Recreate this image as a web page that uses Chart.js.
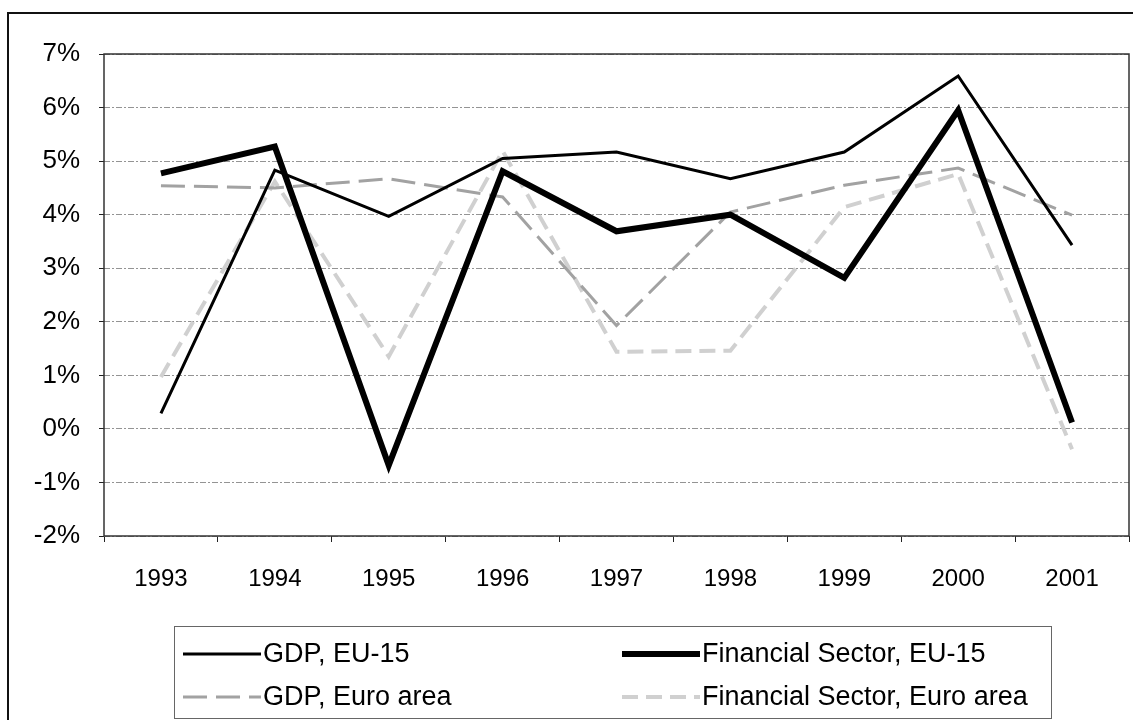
<!DOCTYPE html>
<html>
<head>
<meta charset="utf-8">
<script src="https://cdn.jsdelivr.net/npm/chart.js@4.4.1/dist/chart.umd.min.js"></script>
<style>
  html, body { margin: 0; padding: 0; background: #fff; }
  #wrap { width: 1133px; height: 720px; position: relative; }
</style>
</head>
<body>
<div id="wrap"><canvas id="c" width="1133" height="720"></canvas></div>
<script>
const years = ['1993', '1994', '1995', '1996', '1997', '1998', '1999', '2000', '2001'];
const gdpEU15 = [0.29, 4.83, 3.97, 5.05, 5.17, 4.67, 5.17, 6.59, 3.43];
const finEU15 = [4.77, 5.27, -0.68, 4.81, 3.69, 4.00, 2.82, 5.95, 0.12];
const gdpEuro = [4.54, 4.50, 4.67, 4.33, 1.93, 4.05, 4.55, 4.87, 3.99];
const finEuro = [0.97, 4.62, 1.35, 5.19, 1.44, 1.46, 4.14, 4.76, -0.38];
const seriesLabels = ['GDP, EU-15', 'Financial Sector, EU-15', 'GDP, Euro area', 'Financial Sector, Euro area'];

const FONT = '"Liberation Sans", Arial, sans-serif';

const framePlugin = {
  id: 'frameAndLegend',
  afterDraw(chart) {
    const ctx = chart.ctx;
    const a = chart.chartArea;
    ctx.save();
    // outer frame
    ctx.strokeStyle = '#111';
    ctx.lineWidth = 2;
    ctx.beginPath();
    ctx.moveTo(8, 725);
    ctx.lineTo(8, 13);
    ctx.lineTo(1140, 13);
    ctx.stroke();
    // plot border
    ctx.strokeStyle = '#333';
    ctx.lineWidth = 1.5;
    ctx.strokeRect(a.left, a.top, a.right - a.left, a.bottom - a.top);
    // legend box
    ctx.strokeStyle = '#666';
    ctx.lineWidth = 1;
    ctx.strokeRect(174.5, 626.5, 877, 92);
    const pos = [[183, 654], [622, 654], [183, 697], [622, 697]];
    chart.data.datasets.forEach((ds, i) => {
      const [x, y] = pos[i];
      ctx.save();
      ctx.strokeStyle = ds.borderColor;
      ctx.lineWidth = ds.borderWidth;
      ctx.setLineDash(ds.borderDash || []);
      ctx.beginPath();
      ctx.moveTo(x, y);
      ctx.lineTo(x + 78, y);
      ctx.stroke();
      ctx.restore();
      ctx.fillStyle = '#000';
      ctx.font = '27px ' + FONT;
      ctx.textBaseline = 'middle';
      ctx.textAlign = 'left';
      ctx.fillText(ds.label, x + 80, y + 1);
    });
    ctx.restore();
  }
};

new Chart(document.getElementById('c'), {
  type: 'line',
  data: {
    labels: years,
    datasets: [
      { label: seriesLabels[0], data: gdpEU15, borderColor: '#000', borderWidth: 3 },
      { label: seriesLabels[1], data: finEU15, borderColor: '#000', borderWidth: 6 },
      { label: seriesLabels[2], data: gdpEuro, borderColor: '#a2a2a2', borderWidth: 3, borderDash: [24, 9] },
      { label: seriesLabels[3], data: finEuro, borderColor: '#d0d0d0', borderWidth: 4, borderDash: [16, 8] }
    ]
  },
  options: {
    responsive: false,
    animation: false,
    devicePixelRatio: 1,
    elements: {
      point: { radius: 0, hoverRadius: 0 },
      line: { tension: 0, fill: false, borderJoinStyle: 'miter', borderCapStyle: 'butt' }
    },
    layout: { padding: { top: 54, left: 0, right: 4, bottom: 0 } },
    plugins: { legend: { display: false }, tooltip: { enabled: false } },
    scales: {
      x: {
        offset: true,
        grid: { offset: true, drawOnChartArea: false, drawTicks: true, tickLength: 6, tickColor: '#222', lineWidth: 1 },
        border: { display: false },
        ticks: { color: '#000', font: { family: FONT, size: 24 }, padding: 23, maxRotation: 0 },
        afterFit(s) { s.height = 184; }
      },
      y: {
        min: -2, max: 7,
        grid: { color: '#949494', lineWidth: 1, tickLength: 5, tickColor: '#222', tickBorderDash: [] },
        border: { display: false, dash: [6, 2, 2, 2] },
        ticks: { stepSize: 1, color: '#000', font: { family: FONT, size: 26 }, padding: 19,
                 callback: v => v + '%' },
        afterFit(s) { s.width = 104; }
      }
    }
  },
  plugins: [framePlugin]
});
</script>
</body>
</html>
